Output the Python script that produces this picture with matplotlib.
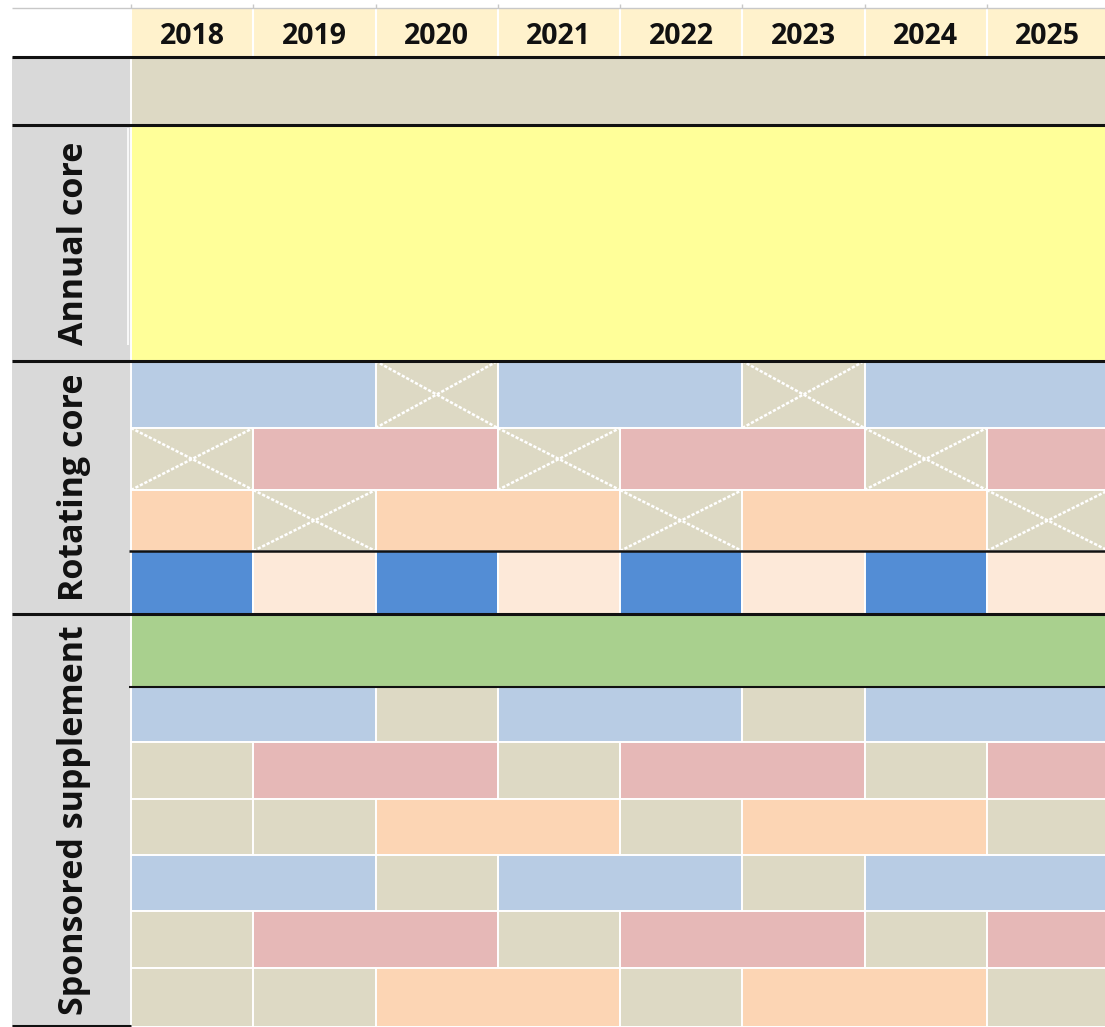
import matplotlib
matplotlib.use('Agg')
import matplotlib.pyplot as plt
from matplotlib.patches import Rectangle

# ---------------- data ----------------
years = [2018, 2019, 2020, 2021, 2022, 2023, 2024, 2025]
section_names = ['Annual core', 'Rotating core', 'Sponsored supplement']

# each row: list of (category, number of years spanned)
row_top = [('tan', 8)]
row_annual = [('yellow', 8)]
rot_blue = [('blue', 2), ('cross', 1), ('blue', 2), ('cross', 1), ('blue', 2)]
rot_pink = [('cross', 1), ('pink', 2), ('cross', 1), ('pink', 2), ('cross', 1), ('pink', 2)]
rot_peach = [('peach', 1), ('cross', 1), ('peach', 2), ('cross', 1), ('peach', 2), ('cross', 1)]
rot_alt = [('dblue', 1), ('pale', 1), ('dblue', 1), ('pale', 1),
           ('dblue', 1), ('pale', 1), ('dblue', 1), ('pale', 1)]
sp_green = [('green', 8)]
sp_blue = [('blue', 2), ('tan', 1), ('blue', 2), ('tan', 1), ('blue', 2)]
sp_pink = [('tan', 1), ('pink', 2), ('tan', 1), ('pink', 2), ('tan', 1), ('pink', 2)]
sp_peach = [('tan', 1), ('tan', 1), ('peach', 2), ('tan', 1), ('peach', 2), ('tan', 1)]

rows = [row_top, row_annual,
        rot_blue, rot_pink, rot_peach, rot_alt,
        sp_green, sp_blue, sp_pink, sp_peach, sp_blue, sp_pink, sp_peach]

# ---------------- style / layout ----------------
colors = {
    'tan': '#DDD9C4', 'cross': '#DDD9C4', 'yellow': '#FFFF99',
    'blue': '#B8CCE4', 'pink': '#E6B8B7', 'peach': '#FCD5B4',
    'dblue': '#538DD5', 'pale': '#FDE9D9', 'green': '#A9D08E',
}
W, H = 1105, 1027
COL_W = 122.25       # pixels per year column
X0 = 131             # pixel x of first year column
LEFT = 12            # pixel x of left label column
HEAD_TOP = 8
row_edges = [57, 125, 361, 428, 490, 551, 614, 687, 742, 799, 855, 911, 968, 1027]
section_rows = [(1, 2), (2, 6), (6, 13)]   # row index ranges for each section


def px2x(px):
    return (px - X0) / COL_W


FONT = ['Open Sans', 'DejaVu Sans']

fig = plt.figure(figsize=(W / 100, H / 100), dpi=100)
ax = fig.add_axes([0, 0, 1, 1])
ax.set_xlim(px2x(0), px2x(W))
ax.set_ylim(H, 0)
ax.axis('off')

# header
ax.add_patch(Rectangle((0, HEAD_TOP), len(years) + 1, row_edges[0] - HEAD_TOP,
                       facecolor='#FFF2CC', edgecolor='none', zorder=1))
for i, yr in enumerate(years):
    ax.vlines(i, HEAD_TOP, row_edges[0], color='white', lw=1.5, zorder=2)
    ax.text(i + 0.5, 36, str(yr), ha='center', va='center', fontsize=20.5,
            fontweight='bold', family=FONT, color='#111111', zorder=5)
    ax.vlines(i, 4, HEAD_TOP, color='#C8C8C8', lw=1, zorder=2)
ax.hlines(HEAD_TOP, px2x(LEFT), px2x(W), color='#C8C8C8', lw=1, zorder=2)

# left label column
ax.add_patch(Rectangle((px2x(LEFT), row_edges[0]), px2x(X0) - px2x(LEFT),
                       row_edges[-1] - row_edges[0], facecolor='#D9D9D9',
                       edgecolor='none', zorder=1))
ax.vlines(px2x(127.5), row_edges[1] + 3, 345, color='white', lw=1.2, zorder=2)

# cells
for r, segs in enumerate(rows):
    y0, y1 = row_edges[r], row_edges[r + 1]
    x = 0
    for cat, span in segs:
        ax.add_patch(Rectangle((x, y0), span, y1 - y0, facecolor=colors[cat],
                               edgecolor='white', lw=1.4, zorder=2))
        if cat == 'cross':
            for ya, yb in ((y0, y1), (y1, y0)):
                ax.plot([x, x + span], [ya, yb], color='white', lw=1.8,
                        ls=(0, (1.3, 0.7)), zorder=3, dash_capstyle='butt')
        x += span

# black separators
full = (px2x(LEFT), px2x(W))
ax.hlines(row_edges[0], *full, color='#111111', lw=2.2, zorder=4)
ax.hlines(row_edges[1], *full, color='#111111', lw=2.2, zorder=4)
ax.hlines(row_edges[2], *full, color='#111111', lw=2.2, zorder=4)
ax.hlines(row_edges[5], px2x(129), px2x(W), color='#111111', lw=1.8, zorder=4)
ax.hlines(row_edges[6], *full, color='#111111', lw=2.2, zorder=4)
ax.hlines(row_edges[7], px2x(129), px2x(W), color='#111111', lw=1.5, zorder=4)
ax.hlines(row_edges[-1] - 1, px2x(LEFT), px2x(X0), color='#111111', lw=2.2, zorder=4)

# section labels
for name, (a, b) in zip(section_names, section_rows):
    yc = (row_edges[a] + row_edges[b]) / 2
    ax.text(px2x(83), yc, name, rotation=90, rotation_mode='anchor',
            ha='center', va='baseline', fontsize=24.5, fontweight='bold',
            family=FONT, color='#111111', zorder=5)

fig.savefig('out.png', dpi=100)
